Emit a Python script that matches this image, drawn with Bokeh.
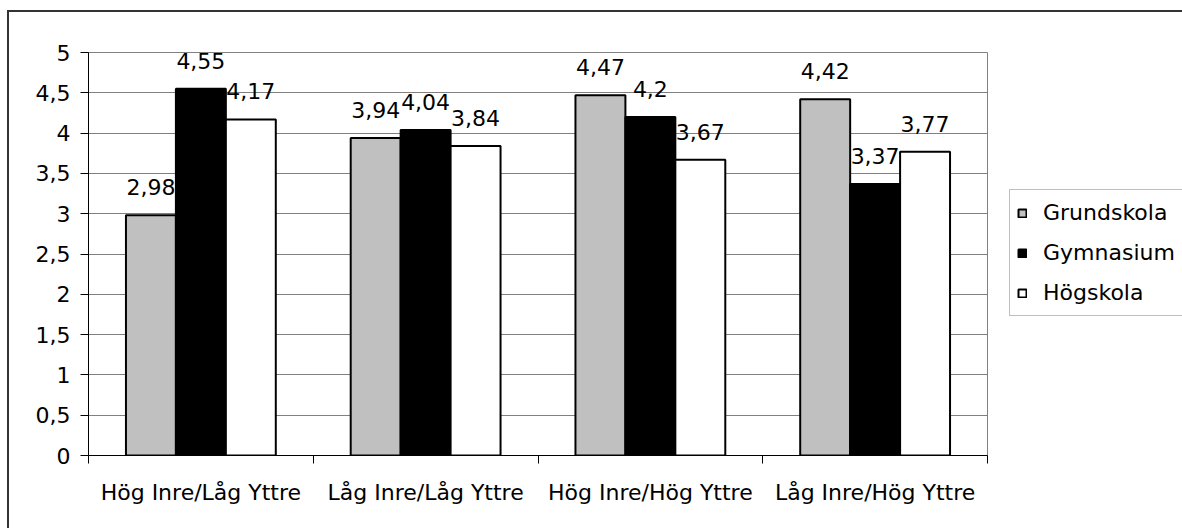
from bokeh.plotting import figure
from bokeh.models import (Range1d, FixedTicker, ColumnDataSource, LabelSet,
                          Legend, LegendItem)
from bokeh.core.properties import value
from bokeh.embed import file_html
from bokeh.resources import INLINE

# --- data -------------------------------------------------------------
categories = ["Hög Inre/Låg Yttre", "Låg Inre/Låg Yttre",
              "Hög Inre/Hög Yttre", "Låg Inre/Hög Yttre"]
series_names = ["Grundskola", "Gymnasium", "Högskola"]
grundskola = [2.98, 3.94, 4.47, 4.42]
gymnasium = [4.55, 4.04, 4.2, 3.37]
hogskola = [4.17, 3.84, 3.67, 3.77]
y_ticks = [0, 0.5, 1, 1.5, 2, 2.5, 3, 3.5, 4, 4.5, 5]
y_tick_labels = ["0", "0,5", "1", "1,5", "2", "2,5", "3", "3,5", "4", "4,5", "5"]

series_values = [grundskola, gymnasium, hogskola]
series_colors = ["#C0C0C0", "#000000", "#FFFFFF"]

FONT = "DejaVu Sans"
FSIZE = "22px"


def sv(v):
    """Swedish decimal comma."""
    return f"{v:g}".replace(".", ",")


# the chart area has a dark border on its left and top edges
p = figure(frame_width=899, frame_height=403,
           min_border_left=79, min_border_right=195,
           min_border_top=40, min_border_bottom=73,
           x_range=Range1d(0, len(categories)), y_range=Range1d(0, 5),
           output_backend="svg", toolbar_location=None,
           background_fill_color="white", border_fill_color="white",
           outline_line_color="#808080", outline_line_width=1,
           styles={"margin-left": "7px", "margin-top": "10px",
                   "border-left": "2px solid #333333",
                   "border-top": "2px solid #333333"})

# grid
p.xgrid.visible = False
p.ygrid.ticker = FixedTicker(ticks=y_ticks)
p.ygrid.grid_line_color = "#808080"
p.ygrid.grid_line_width = 1

# value axis
p.yaxis.ticker = FixedTicker(ticks=y_ticks)
p.yaxis.major_label_overrides = {float(t): lab for t, lab in zip(y_ticks, y_tick_labels)}
p.yaxis.axis_line_color = "black"
p.yaxis.major_tick_line_color = "black"
p.yaxis.major_tick_out = 8
p.yaxis.major_tick_in = 0
p.yaxis.minor_tick_line_color = None
p.yaxis.major_label_standoff = 10
p.yaxis.major_label_text_font = FONT
p.yaxis.major_label_text_font_size = FSIZE
p.yaxis.major_label_text_color = "black"

# category axis: labels at the centres, tick marks between categories
centers = [i + 0.5 for i in range(len(categories))]
bounds = list(range(len(categories) + 1))
p.xaxis.ticker = FixedTicker(ticks=centers, minor_ticks=bounds)
p.xaxis.major_label_overrides = {c: name for c, name in zip(centers, categories)}
p.xaxis.axis_line_color = "black"
p.xaxis.major_tick_line_color = None
p.xaxis.major_tick_out = 8
p.xaxis.major_tick_in = 0
p.xaxis.minor_tick_line_color = "black"
p.xaxis.minor_tick_out = 8
p.xaxis.minor_tick_in = 0
p.xaxis.major_label_standoff = 16
p.xaxis.major_label_text_font = FONT
p.xaxis.major_label_text_font_size = FSIZE
p.xaxis.major_label_text_color = "black"

# clustered bars (gap width 150 %)
bar_w = 1 / 4.5
renderers = []
for j, (name, vals, col) in enumerate(zip(series_names, series_values, series_colors)):
    xs = [c + (j - 1) * bar_w for c in centers]
    src = ColumnDataSource(dict(x=xs, top=vals, label=[sv(v) for v in vals]))
    r = p.vbar(x="x", top="top", bottom=0, width=bar_w, source=src,
               fill_color=col, line_color="black", line_width=2)
    renderers.append(r)
    p.add_layout(LabelSet(x="x", y="top", text="label", source=src,
                          text_align="center", text_baseline="alphabetic",
                          y_offset=20, text_font=value(FONT),
                          text_font_size=FSIZE, text_color="black"))

legend = Legend(items=[LegendItem(label=n, renderers=[r])
                       for n, r in zip(series_names, renderers)],
                location=(22, 139), orientation="vertical",
                border_line_color="#808080", border_line_width=1,
                background_fill_color="white", background_fill_alpha=1,
                padding=7, spacing=9, margin=0,
                glyph_width=10, glyph_height=10, label_standoff=16,
                label_height=31, label_width=132,
                label_text_font=FONT, label_text_font_size=FSIZE,
                label_text_color="black")
p.add_layout(legend, "right")

open("out.html", "w").write(file_html(p, INLINE))
